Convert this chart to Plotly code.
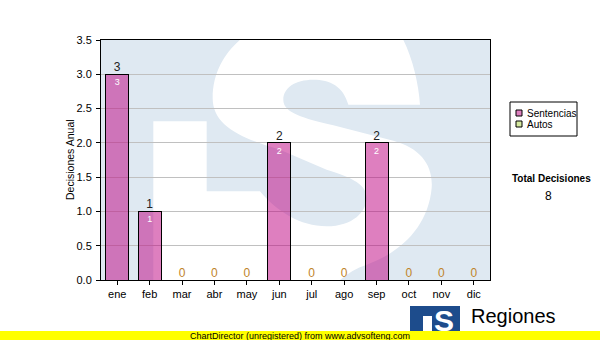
import plotly.graph_objects as go

# ---- data ----
months = ["ene", "feb", "mar", "abr", "may", "jun", "jul", "ago", "sep", "oct", "nov", "dic"]
sentencias = [3, 1, 0, 0, 0, 2, 0, 0, 2, 0, 0, 0]
autos = [0, 0, 0, 0, 0, 0, 0, 0, 0, 0, 0, 0]
total_decisiones = 8
y_title = "Decisiones Anual"

W, H = 600, 340
L, R, T, B = 101, 490, 40, 280  # plot area in pixels
FONT = "Liberation Sans"

def px2paper(px, py):
    return (px - L) / (R - L), (B - py) / (B - T)

def z2data(zx, zy):
    # watermark outline traced in 3x-zoom coordinates of the plot area
    px = 100 + zx / 3.0
    py = 38 + zy / 3.0
    xd = (px - L) / (R - L) * 12 - 0.5
    yd = (B - py) / (B - T) * 3.5
    return xd, yd

segs = [
    ("M", [(880, -40)]),
    ("C", [(925, 10), (955, 120), (960, 200)]),
    ("L", [(745, 200)]),
    ("C", [(730, 145), (690, 125), (640, 125)]),
    ("C", [(585, 125), (550, 150), (550, 185)]),
    ("C", [(550, 225), (610, 240), (700, 262)]),
    ("L", [(880, 308)]),
    ("C", [(960, 330), (1000, 380), (995, 450)]),
    ("C", [(985, 560), (910, 640), (800, 680)]),
    ("C", [(740, 700), (700, 740), (650, 800)]),
    ("L", [(160, 800)]),
    ("L", [(160, 250)]),
    ("L", [(320, 250)]),
    ("L", [(320, 460)]),
    ("L", [(480, 460)]),
    ("C", [(530, 520), (600, 565), (680, 565)]),
    ("C", [(760, 565), (800, 520), (800, 480)]),
    ("C", [(800, 440), (760, 420), (680, 395)]),
    ("L", [(540, 335)]),
    ("C", [(420, 300), (338, 262), (338, 180)]),
    ("C", [(338, 80), (400, 10), (470, -30)]),
    ("C", [(560, -80), (800, -80), (880, -40)]),
]
path = ""
for cmd, pts in segs:
    path += cmd + " " + " ".join("%.4f,%.4f" % z2data(*p) for p in pts) + " "
path += "Z"

fig = go.Figure()

fig.add_trace(go.Bar(
    x=months, y=sentencias, name="Sentencias",
    marker=dict(color="rgba(190,0,128,0.5)", line=dict(color="black", width=1)),
    width=0.71, showlegend=False, hoverinfo="skip",
    text=[str(v) if v else "" for v in sentencias],
    textposition="inside", insidetextanchor="end", textangle=0,
    constraintext="none",
    insidetextfont=dict(family=FONT, size=9, color="white"),
))
fig.add_trace(go.Bar(
    x=months, y=autos, name="Autos",
    marker=dict(color="rgba(170,210,90,0.5)", line=dict(color="black", width=1)),
    width=0.71, showlegend=False, hoverinfo="skip",
))

# labels above bars
top_colors = ["#222222" if v else "#c0842a" for v in sentencias]
fig.add_trace(go.Scatter(
    x=months, y=sentencias, mode="text", text=[str(v) for v in sentencias],
    textposition="top center", textfont=dict(family=FONT, size=12, color=top_colors),
    showlegend=False, hoverinfo="skip", cliponaxis=False,
))

shapes = []
# watermark (white letters on light blue background)
shapes.append(dict(type="path", xref="x", yref="y", path=path, fillcolor="white",
                   line=dict(width=0), layer="below"))

# legend box
x0, y0 = px2paper(510, 102); x1, y1 = px2paper(577, 136)
shapes.append(dict(type="rect", xref="paper", yref="paper", x0=x0, y0=y0, x1=x1, y1=y1,
                   line=dict(color="black", width=1), fillcolor="white"))
sw = [("Sentencias", "#de80bf", 113), ("Autos", "#d6eaa0", 124)]
annotations = []
for name, col, cy in sw:
    a0, b0 = px2paper(516, cy - 3); a1, b1 = px2paper(522, cy + 3)
    shapes.append(dict(type="rect", xref="paper", yref="paper", x0=a0, y0=b0, x1=a1, y1=b1,
                       line=dict(color="black", width=1), fillcolor=col))
    tx, ty = px2paper(525, cy)
    annotations.append(dict(x=tx, y=ty, xref="paper", yref="paper", text=name, showarrow=False,
                            xanchor="left", yanchor="middle", font=dict(family=FONT, size=10, color="black")))

# Total
tx, ty = px2paper(551, 178)
annotations.append(dict(x=tx, y=ty, xref="paper", yref="paper", text="<b>Total Decisiones</b>",
                        showarrow=False, xanchor="center", yanchor="middle",
                        font=dict(family=FONT, size=10, color="black")))
tx, ty = px2paper(548, 196)
annotations.append(dict(x=tx, y=ty, xref="paper", yref="paper", text=str(total_decisiones),
                        showarrow=False, xanchor="center", yanchor="middle",
                        font=dict(family=FONT, size=12, color="black")))

# y-axis title
tx, ty = px2paper(70, 160)
annotations.append(dict(x=tx, y=ty, xref="paper", yref="paper", text=y_title, textangle=-90,
                        showarrow=False, xanchor="center", yanchor="middle",
                        font=dict(family=FONT, size=10.5, color="black")))

# logo
a0, b0 = px2paper(410, 306); a1, b1 = px2paper(460, 340)
shapes.append(dict(type="rect", xref="paper", yref="paper", x0=a0, y0=b0, x1=a1, y1=b1,
                   line=dict(width=0), fillcolor="#1d4c8c"))
a0, b0 = px2paper(423, 316); a1, b1 = px2paper(432, 340)
shapes.append(dict(type="rect", xref="paper", yref="paper", x0=a0, y0=b0, x1=a1, y1=b1,
                   line=dict(width=0), fillcolor="white"))
tx, ty = px2paper(444, 320)
annotations.append(dict(x=tx, y=ty, xref="paper", yref="paper", text="<b>S</b>",
                        showarrow=False, xanchor="center", yanchor="middle",
                        font=dict(family=FONT, size=30, color="white")))
tx, ty = px2paper(469, 316)
annotations.append(dict(x=tx, y=ty, xref="paper", yref="paper", text="Regiones",
                        showarrow=False, xanchor="left", yanchor="middle",
                        font=dict(family=FONT, size=20, color="black")))

# yellow footer
a0, b0 = px2paper(0, 331); a1, b1 = px2paper(600, 341)
shapes.append(dict(type="rect", xref="paper", yref="paper", x0=a0, y0=b0, x1=a1, y1=b1,
                   line=dict(width=0), fillcolor="#ffff00"))
tx, ty = px2paper(300, 335.5)
annotations.append(dict(x=tx, y=ty, xref="paper", yref="paper",
                        text="ChartDirector (unregistered) from www.advsofteng.com",
                        showarrow=False, xanchor="center", yanchor="middle",
                        font=dict(family=FONT, size=9, color="black")))

fig.update_layout(
    width=W, height=H,
    margin=dict(l=L, r=W - R, t=T, b=H - B, pad=0),
    paper_bgcolor="white", plot_bgcolor="#dfe9f2",
    barmode="stack", showlegend=False,
    shapes=shapes, annotations=annotations,
    font=dict(family=FONT, size=11, color="black"),
)
fig.update_xaxes(
    type="category", range=[-0.5, 11.5], showline=True, linecolor="black", linewidth=1,
    mirror=True, ticks="outside", ticklen=4, tickcolor="black", showgrid=False,
    tickfont=dict(family=FONT, size=11, color="black"),
)
fig.update_yaxes(
    range=[0, 3.5], dtick=0.5, tickformat=".1f", showline=True, linecolor="black",
    linewidth=1, mirror=True, ticks="outside", ticklen=4, tickcolor="black",
    showgrid=True, gridcolor="#c0c0c0", gridwidth=1, zeroline=False,
    ticklabelstandoff=2,
    tickfont=dict(family=FONT, size=11, color="black"),
)

fig.write_html("out.html")
